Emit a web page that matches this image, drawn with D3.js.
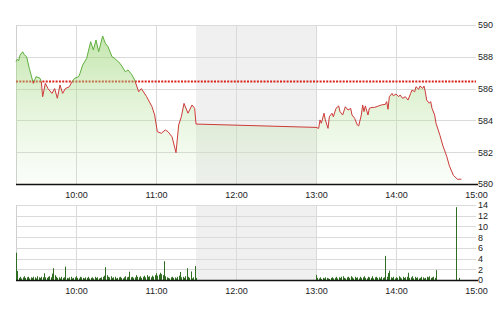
<!DOCTYPE html>
<html><head><meta charset="utf-8">
<script src="https://cdn.jsdelivr.net/npm/d3@7"></script>
<style>
html,body{margin:0;padding:0;background:#fff;}
svg{display:block;}
text{font-family:"Liberation Sans",Arial,sans-serif;font-size:9px;fill:#222;}
</style></head><body>
<svg id="c" width="500" height="312"></svg>
<script>
// ---------- data ----------
const priceTimes = ["09:15","09:16","09:17","09:18","09:20","09:21","09:23","09:25","09:28","09:30","09:33","09:34","09:35","09:37","09:39","09:42","09:44","09:46","09:48","09:50","09:52","09:55","09:57","09:59","10:02","10:03","10:05","10:08","10:11","10:13","10:15","10:17","10:20","10:22","10:24","10:27","10:29","10:33","10:37","10:39","10:42","10:44","10:47","10:49","10:53","10:57","10:59","11:01","11:04","11:07","11:09","11:12","11:15","11:17","11:19","11:21","11:24","11:27","11:29","11:30",
"13:00","13:02","13:03","13:04","13:06","13:07","13:09","13:10","13:12","13:13","13:15","13:17","13:18","13:20","13:22","13:24","13:26","13:27","13:29","13:31","13:32","13:34","13:35","13:36","13:37","13:39","13:40","13:42","13:44","13:47","13:49","13:52","13:53","13:54","13:55","13:57","13:58","14:00","14:02","14:03","14:05","14:07","14:09","14:11","14:12","14:14","14:15","14:17","14:18","14:20","14:21","14:22","14:23","14:25","14:26","14:27","14:29","14:30","14:33","14:35","14:38","14:40","14:43","14:46","14:49"];
const priceValues = [587.69,587.85,587.75,588.10,588.32,588.15,588.0,587.27,586.33,586.75,586.65,586.43,585.49,586.33,586.0,585.7,586.0,585.39,586.23,585.7,586.0,586.12,586.43,586.65,586.75,586.96,587.48,587.9,588.95,588.43,589.06,588.32,589.31,588.85,588.64,588.0,587.9,587.59,587.06,587.17,586.86,586.54,585.8,586.0,585.49,584.86,584.34,583.29,583.19,583.40,583.29,582.97,581.97,583.71,584.23,585.07,584.45,584.97,584.76,583.77,
583.56,583.5,584.03,583.82,584.45,584.03,583.50,584.23,584.45,584.23,584.76,584.91,584.55,584.34,584.86,584.65,584.76,584.34,584.13,583.71,583.65,584.34,584.97,584.55,584.91,584.34,584.76,584.82,584.82,584.91,584.97,585.01,585.18,584.70,585.49,585.70,585.55,585.66,585.49,585.60,585.39,585.49,585.28,585.70,585.91,585.80,586.12,585.96,586.16,586.02,586.16,585.80,585.28,585.08,585.18,584.76,584.34,583.82,583.05,582.45,581.75,581.15,580.55,580.30,580.30];
const refPrice = 586.45;

const volAMStart = "09:15";
const volAM = [5.1,1.7,
0.4,0.6,0.3,0.5,0.7,0.4,0.5,0.6,0.3,0.5,0.4,0.6,0.5,0.3,0.7,0.5,0.4,0.6,0.5,
1.25,0.5,0.4,0.6,0.7,0.5,1.2,2.2,0.9,0.6,0.4,0.5,0.3,0.6,0.4,0.5,
2.5,0.4,0.3,0.5,0.6,0.3,0.4,0.5,0.7,0.4,0.3,0.6,0.5,0.4,0.3,0.5,0.4,0.6,0.3,0.4,0.5,0.3,0.6,0.4,0.5,0.3,0.4,0.5,0.6,0.8,
2.4,0.9,0.6,0.5,0.7,0.4,0.5,0.6,0.3,0.4,0.5,0.6,0.4,0.3,0.5,0.7,0.5,0.6,
1.55,0.5,0.6,0.4,0.5,0.9,0.6,0.5,0.7,0.4,0.6,0.8,0.5,0.9,0.6,0.7,0.5,0.8,0.6,0.9,
1.25,0.8,1.0,1.35,1.1,0.9,3.5,0.7,0.5,0.4,0.3,0.5,0.6,0.4,0.5,0.3,0.6,0.8,
1.5,0.5,0.6,0.4,0.7,2.2,0.6,0.4,1.6,0.3,0.5,2.6,0.4];
const volPMStart = "13:00";
const volPM = [0.95,0.4,0.3,0.5,0.2,0.4,0.3,0.5,0.4,0.3,0.2,0.4,0.5,0.3,0.4,0.6,0.3,0.5,0.4,0.6,0.7,0.4,0.3,0.5,0.6,0.4,0.7,0.5,0.3,0.6,0.4,0.5,0.3,0.6,0.4,0.5,0.7,0.4,0.3,0.6,0.5,0.4,0.7,0.3,0.5,0.6,0.4,0.5,0.3,0.6,0.4,0.5,
4.5,0.6,1.3,1.75,0.5,0.4,0.6,0.3,0.5,0.4,0.7,0.5,0.3,0.6,0.4,0.5,0.6,
1.35,0.4,0.5,0.7,0.3,0.6,0.4,0.5,0.3,0.4,0.6,0.5,0.3,0.4,0.6,0.5,0.7,0.4,0.5,0.6,0.4,
1.85,0,0,0,0,0,0,0,0,0,0,0,0,0,0,13.6,0,0.4];

const xTickLabels = ["10:00","11:00","12:00","13:00","14:00","15:00"];
const priceTicks = [580,582,584,586,588,590];
const volTicks = [0,2,4,6,8,10,12,14];
const lunchBreak = ["11:30","13:00"];
const session = ["09:15","15:00"];

// ---------- helpers ----------
const toMin = s => { const [h,m] = s.split(":").map(Number); return h*60+m; };
const fmt = m => String(Math.floor(m/60)).padStart(2,"0")+":"+String(m%60).padStart(2,"0");

const L = 16, R = 476;
const pTop = 25, pBot = 184, vTop = 205, vBot = 280;

const x = d3.scaleLinear().domain(session.map(toMin)).range([L, R]);
const yP = d3.scaleLinear().domain([580,590]).range([pBot, pTop]);
const yV = d3.scaleLinear().domain([0,14]).range([vBot, vTop]);

const svg = d3.select("#c");
const defs = svg.append("defs");
const grad = defs.append("linearGradient").attr("id","fillG")
  .attr("gradientUnits","userSpaceOnUse").attr("x1",0).attr("x2",0).attr("y1",pTop).attr("y2",pBot);
grad.append("stop").attr("offset","0").attr("stop-color","rgb(150,210,110)").attr("stop-opacity",0.62);
grad.append("stop").attr("offset","1").attr("stop-color","rgb(200,235,180)").attr("stop-opacity",0.08);

defs.append("clipPath").attr("id","above").append("rect")
  .attr("x",0).attr("y",0).attr("width",500).attr("height",yP(refPrice));
defs.append("clipPath").attr("id","below").append("rect")
  .attr("x",0).attr("y",yP(refPrice)).attr("width",500).attr("height",312);

const hourTicks = xTickLabels.map(toMin);
const innerHours = hourTicks.filter(t => x(t) < R - 1);

function panel(top, bot, yScale, ticks) {
  const g = svg.append("g");
  g.append("rect").attr("x", x(toMin(lunchBreak[0]))).attr("y", top)
    .attr("width", x(toMin(lunchBreak[1])) - x(toMin(lunchBreak[0]))).attr("height", bot - top)
    .attr("fill", "#f0f0f0");
  g.selectAll(".hg").data(ticks).join("line")
    .attr("x1", L).attr("x2", R).attr("y1", d => Math.round(yScale(d))+0.5).attr("y2", d => Math.round(yScale(d))+0.5)
    .attr("stroke", "#dadada").attr("stroke-width", 1);
  g.selectAll(".vg").data(innerHours).join("line")
    .attr("x1", d => Math.round(x(d))+0.5).attr("x2", d => Math.round(x(d))+0.5).attr("y1", top).attr("y2", bot)
    .attr("stroke", "#dadada").attr("stroke-width", 1);
  g.append("line").attr("x1", L+0.5).attr("x2", L+0.5).attr("y1", top).attr("y2", bot)
    .attr("stroke", "#cfcfcf");
  // right axis labels
  const ax = d3.axisRight(yScale).tickValues(ticks).tickSize(0).tickPadding(2);
  const ag = svg.append("g").attr("transform", `translate(${R},0)`).call(ax);
  ag.select(".domain").remove();
  ag.selectAll("text").attr("font-size", 9).attr("fill","#222")
    .style("font-family","'Liberation Sans',Arial,sans-serif");
  return g;
}

// ---------- price panel ----------
const gp = panel(pTop, pBot, yP, priceTicks);
const pts = priceTimes.map((t,i) => ({t: toMin(t), v: priceValues[i]}));

gp.append("line").attr("x1", L).attr("x2", R).attr("y1", yP(refPrice)).attr("y2", yP(refPrice))
  .attr("stroke", "#d8221c").attr("stroke-width", 2).attr("stroke-dasharray", "2,1.3");

gp.append("path").datum(pts)
  .attr("d", d3.area().x(d => x(d.t)).y0(pBot).y1(d => yP(d.v)))
  .attr("fill", "url(#fillG)");

const lineGen = d3.line().x(d => x(d.t)).y(d => yP(d.v));
gp.append("path").datum(pts).attr("d", lineGen).attr("fill","none")
  .attr("stroke","#5fae3e").attr("stroke-width",1).attr("clip-path","url(#above)");
gp.append("path").datum(pts).attr("d", lineGen).attr("fill","none")
  .attr("stroke","#cc3a3a").attr("stroke-width",1).attr("clip-path","url(#below)");

gp.append("line").attr("x1", L).attr("x2", R+2).attr("y1", pBot+0.5).attr("y2", pBot+0.5)
  .attr("stroke", "#111").attr("stroke-width", 1.5);

const xAx1 = svg.append("g").attr("transform", `translate(0,${pBot})`)
  .call(d3.axisBottom(x).tickValues(hourTicks).tickSize(0).tickPadding(8).tickFormat(fmt));
xAx1.select(".domain").remove();
xAx1.selectAll("text").attr("font-size",9).attr("fill","#222").style("font-family","'Liberation Sans',Arial,sans-serif");

// ---------- volume panel ----------
const gv = panel(vTop, vBot, yV, volTicks);
const amS = toMin(volAMStart), pmS = toMin(volPMStart);
const vols = volAM.map((v,i) => ({t: amS + i, v}))
  .concat(volPM.map((v,i) => ({t: pmS + i, v})))
  .filter(d => d.v > 0);

gv.selectAll(".vb").data(vols).join("line")
  .attr("x1", d => Math.round(x(d.t))+0.5).attr("x2", d => Math.round(x(d.t))+0.5)
  .attr("y1", vBot).attr("y2", d => yV(d.v))
  .attr("stroke", "#2f6e22").attr("stroke-width", 1);

gv.append("line").attr("x1", L).attr("x2", R+2).attr("y1", vBot+0.5).attr("y2", vBot+0.5)
  .attr("stroke", "#111").attr("stroke-width", 1.5);

const xAx2 = svg.append("g").attr("transform", `translate(0,${vBot})`)
  .call(d3.axisBottom(x).tickValues(hourTicks).tickSize(0).tickPadding(8).tickFormat(fmt));
xAx2.select(".domain").remove();
xAx2.selectAll("text").attr("font-size",9).attr("fill","#222").style("font-family","'Liberation Sans',Arial,sans-serif");
</script>
</body></html>
